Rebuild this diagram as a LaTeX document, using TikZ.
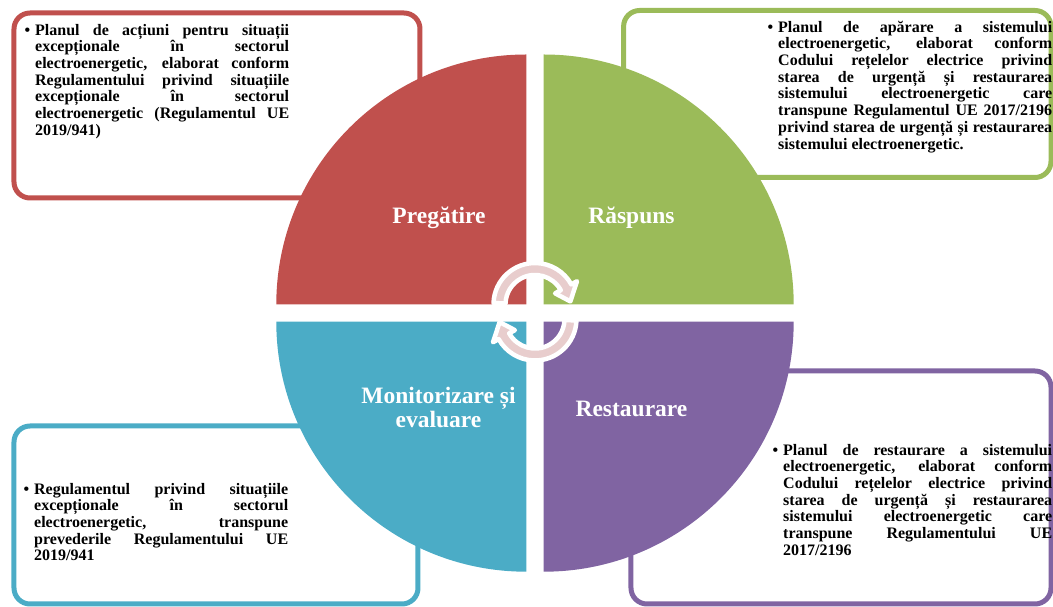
\documentclass[tikz,border=0pt]{standalone}
\usepackage{fontspec}
\setmainfont{Liberation Serif}
\usetikzlibrary{positioning}
\definecolor{redq}{RGB}{192,80,77}
\definecolor{greenq}{RGB}{155,187,89}
\definecolor{blueq}{RGB}{75,172,198}
\definecolor{purpleq}{RGB}{128,100,162}
\definecolor{arrowpink}{RGB}{232,205,205}
\tikzset{
    % Framed text panel
    panel/.style={
        line width=5pt,
        rounded corners=16pt,
    },
    % Bullet text inside a panel
    note/.style={
        text width=#1,
        inner sep=0pt,
        anchor=north west,
        align=justify,
        font=\bfseries\fontsize{16}{16.7}\selectfont,
    },
    % Phase label on a quarter
    phase/.style={
        text=white,
        inner sep=0pt,
        font=\bfseries\fontsize{23.5}{24}\selectfont,
    },
    % Circular arrows in the middle
    cyc/.style={
        fill=arrowpink,
        draw=white,
        line width=4.5pt,
        line join=round,
    },
}

\begin{document}
\begin{tikzpicture}[x=1pt,y=1pt]
    \useasboundingbox (-535,-294) rectangle (518,313);

    % Panels
    \draw[panel,redq] (-521,115) rectangle (-115,300);
    \draw[panel,greenq] (88.6,135.5) rectangle (516,302.5);
    \draw[panel,blueq] (-521,-291) rectangle (-117,-113);
    \draw[panel,purpleq] (96,-291) rectangle (516,-58);

    % Quarters
    \fill[redq] (-8.7,8.5) -- ++(-250,0) arc[start angle=180,end angle=90,radius=250] -- cycle;
    \fill[greenq] (8.7,8.5) -- ++(0,250) arc[start angle=90,end angle=0,radius=250] -- cycle;
    \fill[purpleq] (8.7,-8.7) -- ++(250,0) arc[start angle=0,end angle=-90,radius=250] -- cycle;
    \fill[blueq] (-8.7,-8.7) -- ++(0,-250) arc[start angle=270,end angle=180,radius=250] -- cycle;

    \node[phase,anchor=base] (prep) at (-96,89) {Pregătire};
    \node[phase,anchor=base] (resp) at (96.5,89) {Răspuns};
    \node[phase,anchor=base] (rest) at (96.5,-104) {Restaurare};
    \node[phase,align=center,anchor=south] (mon) at (-96.5,-115) {Monitorizare și\\evaluare};

    % Cycle arrows
    \foreach \turn/\dy in {0/8.5,180/6}
        \filldraw[cyc,rotate=\turn,shift={(0,\dy)}] (178:41.5) arc[start angle=178,end angle=29,radius=41.5]
            -- (29:48) -- (5:35.5) -- (29:23) -- (29:29.5) arc[start angle=29,end angle=178,radius=29.5] -- cycle;

    % Panel texts
    \node[note=254pt] (prepText) at (-500,289.7) {\noindent\strut\llap{\textbullet\hspace{5pt}}Planul de acțiuni pentru situații\linebreak
        excepționale în sectorul\linebreak
        electroenergetic, elaborat conform\linebreak
        Regulamentului privind situațiile\linebreak
        excepționale în sectorul\linebreak
        electroenergetic (Regulamentul UE\linebreak
        2019/941)};
    \node[note=274pt] (respText) at (243,292.7) {\noindent\strut\llap{\textbullet\hspace{5pt}}Planul de apărare a sistemului\linebreak
        electroenergetic, elaborat conform\linebreak
        Codului rețelelor electrice privind\linebreak
        starea de urgență și restaurarea\linebreak
        sistemului electroenergetic care\linebreak
        transpune Regulamentul UE 2017/2196\linebreak
        privind starea de urgență și restaurarea\linebreak
        sistemului electroenergetic.};
    \node[note=254pt] (monText) at (-501,-169.3) {\noindent\strut\llap{\textbullet\hspace{5pt}}Regulamentul privind situațiile\linebreak
        excepționale în sectorul\linebreak
        electroenergetic, transpune\linebreak
        prevederile Regulamentului UE\linebreak
        2019/941};
    \node[note=269pt] (restText) at (248,-130.3) {\noindent\strut\llap{\textbullet\hspace{5pt}}Planul de restaurare a sistemului\linebreak
        electroenergetic, elaborat conform\linebreak
        Codului rețelelor electrice privind\linebreak
        starea de urgență și restaurarea\linebreak
        sistemului electroenergetic care\linebreak
        transpune Regulamentului UE\linebreak
        2017/2196};
\end{tikzpicture}
\end{document}
